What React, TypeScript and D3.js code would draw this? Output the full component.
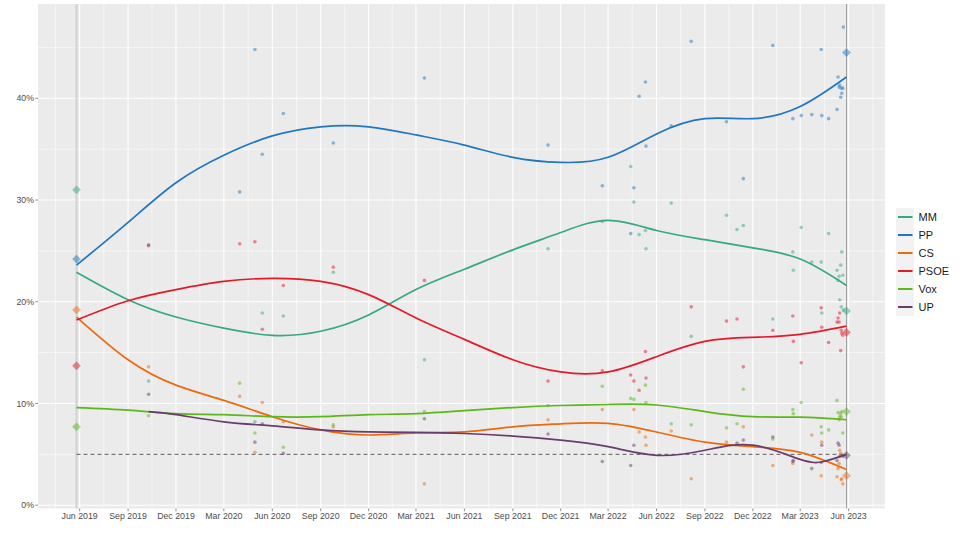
import React from "react";
import * as d3 from "d3";

// parties, in legend order
const parties = ["MM", "PP", "CS", "PSOE", "Vox", "UP"];
const partyColors = ["#36a983", "#1f77c4", "#ec6a0c", "#e41a2c", "#5cb71b", "#6a3d6e"];

// municipal elections (start and end of the period)
const electionDates = ["2019-05-26", "2023-05-28"];
const electionMM = [31.0, 19.1];
const electionPP = [24.2, 44.5];
const electionCS = [19.2, 2.9];
const electionPSOE = [13.7, 17.0];
const electionVox = [7.7, 9.2];
const electionUP = [null, 4.9];

// polls
const pollDates = [
  "2019-10-10", "2020-03-31", "2020-04-29", "2020-05-13", "2020-06-22", "2020-09-25",
  "2021-03-17", "2021-11-07", "2022-02-18", "2022-04-13", "2022-04-19", "2022-04-29",
  "2022-05-11", "2022-05-12", "2022-06-29", "2022-08-06", "2022-10-12", "2022-11-01",
  "2022-11-13", "2023-01-08", "2023-02-15", "2023-02-16", "2023-03-03", "2023-03-23",
  "2023-04-10", "2023-04-11", "2023-04-24", "2023-05-10", "2023-05-12", "2023-05-14",
  "2023-05-15", "2023-05-17", "2023-05-18", "2023-05-19", "2023-05-21", "2023-05-22",
];
const pollMM = [
  12.2, null, 8.2, 18.9, 18.6, 22.9, 14.3, 25.2, 27.9, 33.3, 29.8, 26.6,
  27.0, 25.2, 29.7, 16.6, 28.5, 27.1, 27.5, 18.3, 24.9, 23.1, 27.3, 23.9,
  23.9, 18.9, 26.7, 23.1, 22.1, 22.5, 20.2, 23.6, 19.5, 24.9, 22.6, 19.2,
];
const pollPP = [
  25.6, 30.8, 44.8, 34.5, 38.5, 35.6, 42.0, 35.4, 31.4, 26.7, 31.2, 40.2,
  41.6, 35.3, 37.3, 45.6, 37.7, null, 32.1, 45.2, 38.0, null, 38.3, 38.4,
  44.8, 38.3, 38.0, 38.9, 42.1, 41.1, 41.3, 40.1, 41.0, 40.5, 41.0, 47.0,
];
const pollCS = [
  13.6, 10.7, 5.2, 10.1, 8.2, 7.7, 2.1, 8.4, 9.4, null, 9.4, 7.2,
  6.7, 5.9, 7.3, 2.6, 6.2, null, 7.7, 3.9, 4.1, null, null, 6.9,
  2.9, 6.2, null, 2.8, 3.6, 4.1, 5.4, 5.1, 2.5, 2.6, 2.1, null,
];
const pollPSOE = [
  25.5, 25.7, 25.9, 17.3, 21.6, 23.4, 22.1, 12.2, 13.2, 12.8, 12.2, 11.3,
  15.1, 12.5, null, 19.5, 18.1, 18.3, 13.6, 17.2, 18.6, 16.1, 14.0, null,
  19.4, 17.5, 16.0, 18.0, 18.4, 18.0, 18.9, 15.2, 17.2, 16.9, 16.7, null,
];
const pollVox = [
  8.8, 12.0, 7.1, null, 5.7, 7.9, 9.2, 9.8, 11.7, 10.5, 10.4, null,
  11.8, 10.1, 8.0, 7.9, 7.6, 8.0, 11.4, 6.5, 9.4, 9.0, 10.1, null,
  7.7, 7.1, 7.4, 10.3, 9.1, 8.4, 8.7, 9.0, 8.7, 9.2, 7.1, null,
];
const pollUP = [
  10.9, null, 6.2, 8.0, 5.1, null, 8.5, 7.0, 4.3, 3.9, 5.9, null,
  null, null, null, null, null, 6.1, 6.4, 6.7, 4.3, 4.4, null, 3.6,
  4.2, 5.9, null, 4.4, 6.1, 5.9, 4.8, null, null, null, 4.8, null,
];

// smoothed trend
const trendDates = [
  "2019-05-26", "2019-09-01", "2019-12-01", "2020-03-01", "2020-06-01", "2020-09-01",
  "2020-12-01", "2021-03-01", "2021-06-01", "2021-09-01", "2021-12-01", "2022-03-01",
  "2022-06-01", "2022-09-01", "2022-12-01", "2023-03-01", "2023-05-28",
];
const trendMM = [22.9, 20.2, 18.5, 17.4, 16.7, 17.1, 18.7, 21.2, 23.2, 25.1, 26.8, 28.0, 27.0, 26.1, 25.3, 24.2, 21.6];
const trendPP = [23.6, 27.8, 31.7, 34.4, 36.3, 37.2, 37.2, 36.4, 35.4, 34.2, 33.7, 34.2, 36.5, 38.0, 38.0, 39.2, 42.1];
const trendCS = [18.5, 14.3, 11.8, 10.3, 8.7, 7.4, 6.9, 7.1, 7.2, 7.7, 8.0, 8.05, 7.2, 6.2, 5.75, 5.2, 3.5];
const trendPSOE = [18.2, 20.1, 21.2, 22.0, 22.3, 22.0, 20.7, 18.4, 16.3, 14.3, 13.1, 13.1, 14.6, 16.1, 16.5, 16.8, 17.6];
const trendVox = [9.6, 9.35, 9.0, 8.9, 8.7, 8.7, 8.9, 9.0, 9.3, 9.6, 9.8, 9.9, 9.85, 9.2, 8.7, 8.65, 8.4];
const trendUPDates = [
  "2019-10-10", "2019-12-01", "2020-03-01", "2020-06-01", "2020-09-01", "2020-12-01",
  "2021-03-01", "2021-06-01", "2021-09-01", "2021-12-01", "2022-03-01", "2022-06-01",
  "2022-09-01", "2022-12-01", "2023-03-01", "2023-04-15", "2023-05-28",
];
const trendUP = [9.2, 8.9, 8.2, 7.8, 7.4, 7.2, 7.15, 7.05, 6.8, 6.4, 5.75, 4.9, 5.4, 5.9, 4.5, 4.3, 5.0];

// threshold and axis ticks
const threshold = 5;
const yTicks = [0, 10, 20, 30, 40];

const W = 960;
const H = 534;
const panel = { left: 38, right: 885, top: 4, bottom: 508.5 };
const FONT = "'Liberation Sans', Arial, Helvetica, sans-serif";

const parse = d3.timeParse("%Y-%m-%d");

export default function App() {
  const eDates = electionDates.map((d) => parse(d));
  const span = +eDates[1] - +eDates[0];
  const x = d3
    .scaleTime()
    .domain([new Date(+eDates[0] - span * 0.05), new Date(+eDates[1] + span * 0.05)])
    .range([panel.left, panel.right]);
  const y = d3.scaleLinear().domain([0, 40]).range([505.2, 98.3]);

  const xTicks = d3.timeMonths(new Date(2019, 5, 1), new Date(2023, 5, 2), 3);
  const fmt = d3.timeFormat("%b %Y");
  const xMinor = [];
  for (let i = 0; i < xTicks.length - 1; i++) {
    xMinor.push(new Date((+xTicks[i] + +xTicks[i + 1]) / 2));
  }
  xMinor.unshift(new Date(+xTicks[0] - (+xTicks[1] - +xTicks[0]) / 2));
  xMinor.push(new Date(+xTicks[xTicks.length - 1] + (+xTicks[1] - +xTicks[0]) / 2));
  const yMinor = [5, 15, 25, 35, 45];

  const polls = [pollMM, pollPP, pollCS, pollPSOE, pollVox, pollUP];
  const elections = [electionMM, electionPP, electionCS, electionPSOE, electionVox, electionUP];
  const trends = [trendMM, trendPP, trendCS, trendPSOE, trendVox, trendUP];
  const trendDateSets = [trendDates, trendDates, trendDates, trendDates, trendDates, trendUPDates];

  // smooth curve through the read-off trend values
  const line = d3
    .line()
    .x((d) => x(d[0]))
    .y((d) => y(d[1]))
    .curve(d3.curveNatural);

  const diamond = d3.symbol(d3.symbolSquare, 38)();

  return (
    <svg
      width={W}
      height={H}
      style={{ position: "absolute", left: 0, top: 0, background: "#fff" }}
      fontFamily={FONT}
    >
      <defs>
        <clipPath id="panel-clip">
          <rect x={panel.left} y={panel.top} width={panel.right - panel.left} height={panel.bottom - panel.top} />
        </clipPath>
      </defs>
      <rect x={panel.left} y={panel.top} width={panel.right - panel.left} height={panel.bottom - panel.top} fill="#EBEBEB" />

      {/* grid */}
      <g clipPath="url(#panel-clip)">
        {yMinor.map((v) => (
          <line key={"ym" + v} x1={panel.left} x2={panel.right} y1={y(v)} y2={y(v)} stroke="#fff" strokeWidth={0.55} />
        ))}
        {xMinor.map((d, i) => (
          <line key={"xm" + i} x1={x(d)} x2={x(d)} y1={panel.top} y2={panel.bottom} stroke="#fff" strokeWidth={0.55} />
        ))}
        {yTicks.map((v) => (
          <line key={"y" + v} x1={panel.left} x2={panel.right} y1={y(v)} y2={y(v)} stroke="#fff" strokeWidth={1.1} />
        ))}
        {xTicks.map((d, i) => (
          <line key={"x" + i} x1={x(d)} x2={x(d)} y1={panel.top} y2={panel.bottom} stroke="#fff" strokeWidth={1.1} />
        ))}
      </g>

      {/* election lines */}
      <line x1={x(eDates[0])} x2={x(eDates[0])} y1={panel.top} y2={panel.bottom} stroke="#d2d2d2" strokeWidth={2} />
      <line x1={x(eDates[1])} x2={x(eDates[1])} y1={panel.top} y2={panel.bottom} stroke="#a0a0a0" strokeWidth={1} />

      {/* threshold */}
      <line
        x1={x(eDates[0])}
        x2={x(eDates[1])}
        y1={y(threshold)}
        y2={y(threshold)}
        stroke="#333"
        strokeWidth={0.8}
        strokeDasharray="4 3"
      />

      {/* poll points */}
      {parties.map((p, pi) => (
        <g key={"pts" + p} fill={partyColors[pi]} fillOpacity={0.5}>
          {pollDates.map((d, i) =>
            polls[pi][i] == null ? null : (
              <circle key={i} cx={x(parse(d))} cy={y(polls[pi][i])} r={1.8} />
            )
          )}
        </g>
      ))}

      {/* trends */}
      {parties.map((p, pi) => (
        <path
          key={"tr" + p}
          d={line(trendDateSets[pi].map((d, i) => [parse(d), trends[pi][i]]))}
          fill="none"
          stroke={partyColors[pi]}
          strokeWidth={1.7}
        />
      ))}

      {/* election results */}
      {parties.map((p, pi) => (
        <g key={"el" + p} fill={partyColors[pi]} fillOpacity={0.5}>
          {eDates.map((d, i) =>
            elections[pi][i] == null ? null : (
              <path
                key={i}
                d={diamond}
                transform={`translate(${x(d)},${y(elections[pi][i])}) rotate(45)`}
              />
            )
          )}
        </g>
      ))}

      {/* axes */}
      <g fontSize={8.8} fill="#4D4D4D">
        {yTicks.map((v) => (
          <g key={"yt" + v}>
            <line x1={panel.left - 2.7} x2={panel.left} y1={y(v)} y2={y(v)} stroke="#333" strokeWidth={0.55} />
            <text x={panel.left - 4} y={y(v) + 3.1} textAnchor="end">
              {v + "%"}
            </text>
          </g>
        ))}
        {xTicks.map((d, i) => (
          <g key={"xt" + i}>
            <line x1={x(d)} x2={x(d)} y1={panel.bottom} y2={panel.bottom + 2.7} stroke="#333" strokeWidth={0.55} />
            <text x={x(d)} y={panel.bottom + 10} textAnchor="middle">
              {fmt(d)}
            </text>
          </g>
        ))}
      </g>

      {/* legend */}
      <g>
        {parties.map((p, pi) => {
          const cy = 217 + pi * 18;
          return (
            <g key={"lg" + p}>
              <rect x={896} y={cy - 9} width={18} height={18} fill="#F2F2F2" />
              <line x1={898} x2={912.5} y1={cy} y2={cy} stroke={partyColors[pi]} strokeWidth={2} />
              <text x={918.5} y={cy + 4} fontSize={11} fill="#1a1a1a">
                {p}
              </text>
            </g>
          );
        })}
      </g>
    </svg>
  );
}
